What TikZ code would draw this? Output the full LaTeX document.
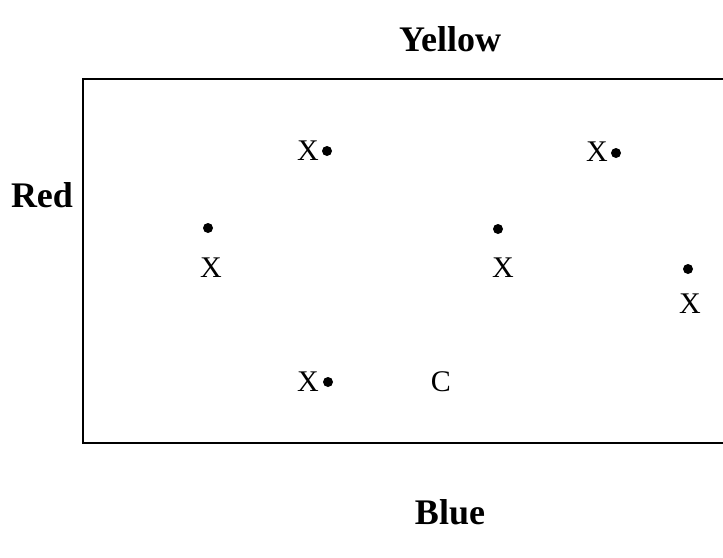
\documentclass[tikz,border=0pt]{standalone}
\usepackage{fontspec}
\setmainfont{Liberation Serif}
\begin{document}
\begin{tikzpicture}[x=1pt,y=-1pt,
  lab/.style={font=\fontsize{36}{40}\selectfont\bfseries, inner sep=0pt, anchor=base},
  ptlab/.style={font=\fontsize{30}{34}\selectfont, inner sep=0pt, anchor=base},
  dotnode/.style={circle, fill=black, draw=none, inner sep=0pt, minimum size=10pt},
  frame/.style={line width=1.6pt}]
\useasboundingbox (0,0) rectangle (723,557);
\coordinate (tr) at (723,79);
\coordinate (tl) at (83,79);
\coordinate (bl) at (83,443);
\coordinate (br) at (723,443);
\draw[frame] (tr) -- (tl) -- (bl) -- (br);
\node[lab] (yellow) at (450,51) {Yellow};
\node[lab] (red) at (42,207) {Red};
\node[lab] (blue) at (450,524) {Blue};
\node[dotnode] (d1) at (327,151) {};
\node[ptlab] (x1) at (308,160) {X};
\node[dotnode] (d2) at (208,228) {};
\node[ptlab] (x2) at (211,277) {X};
\node[dotnode] (d3) at (616,153) {};
\node[ptlab] (x3) at (597,161) {X};
\node[dotnode] (d4) at (498,229) {};
\node[ptlab] (x4) at (503,277) {X};
\node[dotnode] (d5) at (688,269) {};
\node[ptlab] (x5) at (690,313) {X};
\node[dotnode] (d6) at (328,382) {};
\node[ptlab] (x6) at (308,391) {X};
\node[ptlab] (c) at (441,391) {C};
\end{tikzpicture}
\end{document}
